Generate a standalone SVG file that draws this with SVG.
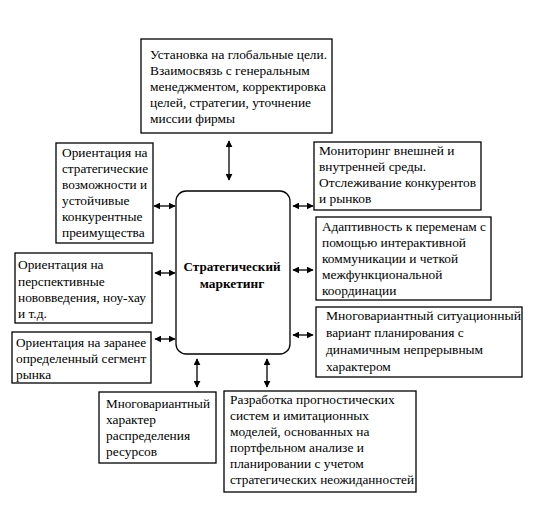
<svg xmlns="http://www.w3.org/2000/svg" width="533" height="517" viewBox="0 0 533 517">
<style>
.box{fill:#fff;stroke:#000;stroke-width:1.3}
text{font-family:'Liberation Serif', 'Times New Roman', 'DejaVu Serif', serif;font-size:13.4px;fill:#000}
.b{font-weight:bold;text-anchor:middle}
.con line{stroke:#000;stroke-width:1.3;marker-start:url(#ah);marker-end:url(#ah)}
</style>
<defs>
<marker id="ah" viewBox="0 0 10 10" refX="9" refY="5" markerWidth="7" markerHeight="7" markerUnits="userSpaceOnUse" orient="auto-start-reverse">
<path d="M0,0 L10,5 L0,10 z" fill="#000"/>
</marker>
</defs>
<rect width="533" height="517" fill="#fff"/>
<g id="center">
<rect class="box" x="176" y="191" width="114" height="163" rx="10"/>
<text class="b" x="232" y="271" textLength="97" lengthAdjust="spacingAndGlyphs">Стратегический</text>
<text class="b" x="232" y="288">маркетинг</text>
</g>
<g id="top">
<rect class="box" x="141" y="39" width="191" height="94"/>
<text x="150" y="59" textLength="177" lengthAdjust="spacingAndGlyphs">Установка на глобальные цели.</text>
<text x="150" y="75">Взаимосвязь с генеральным</text>
<text x="150" y="91" textLength="176" lengthAdjust="spacingAndGlyphs">менеджментом, корректировка</text>
<text x="150" y="107">целей, стратегии, уточнение</text>
<text x="150" y="123">миссии фирмы</text>
</g>
<g id="left1">
<rect class="box" x="56" y="143" width="97" height="100"/>
<text x="62" y="157">Ориентация на</text>
<text x="62" y="173" textLength="86" lengthAdjust="spacingAndGlyphs">стратегические</text>
<text x="62" y="189" textLength="85" lengthAdjust="spacingAndGlyphs">возможности и</text>
<text x="62" y="205">устойчивые</text>
<text x="62" y="221">конкурентные</text>
<text x="62" y="237">преимущества</text>
</g>
<g id="left2">
<rect class="box" x="15" y="253" width="137" height="70"/>
<text x="18" y="269">Ориентация на</text>
<text x="18" y="286">перспективные</text>
<text x="18" y="302" textLength="128" lengthAdjust="spacingAndGlyphs">нововведения, ноу-хау</text>
<text x="18" y="318">и т.д.</text>
</g>
<g id="left3">
<rect class="box" x="12" y="332" width="139" height="51"/>
<text x="16" y="347" textLength="130" lengthAdjust="spacingAndGlyphs">Ориентация на заранее</text>
<text x="16" y="363">определенный сегмент</text>
<text x="16" y="379">рынка</text>
</g>
<g id="right1">
<rect class="box" x="314" y="142" width="167" height="68"/>
<text x="319" y="155">Мониторинг внешней и</text>
<text x="319" y="171">внутренней среды.</text>
<text x="319" y="187" textLength="157" lengthAdjust="spacingAndGlyphs">Отслеживание конкурентов</text>
<text x="319" y="203">и рынков</text>
</g>
<g id="right2">
<rect class="box" x="316" y="217" width="175" height="83"/>
<text x="322" y="231" textLength="164" lengthAdjust="spacingAndGlyphs">Адаптивность к переменам с</text>
<text x="322" y="247">помощью интерактивной</text>
<text x="322" y="263">коммуникации и четкой</text>
<text x="322" y="279">межфункциональной</text>
<text x="322" y="295">координации</text>
</g>
<g id="right3">
<rect class="box" x="316" y="307" width="206" height="70"/>
<text x="326" y="320" textLength="195" lengthAdjust="spacingAndGlyphs">Многовариантный ситуационный</text>
<text x="326" y="337">вариант планирования с</text>
<text x="326" y="354">динамичным непрерывным</text>
<text x="326" y="371">характером</text>
</g>
<g id="bottom1">
<rect class="box" x="99" y="392" width="117" height="71"/>
<text x="106" y="408" textLength="104" lengthAdjust="spacingAndGlyphs">Многовариантный</text>
<text x="106" y="424">характер</text>
<text x="106" y="440">распределения</text>
<text x="106" y="456">ресурсов</text>
</g>
<g id="bottom2">
<rect class="box" x="224" y="391" width="192" height="101"/>
<text x="230" y="404">Разработка прогностических</text>
<text x="230" y="420">систем и имитационных</text>
<text x="230" y="436">моделей, основанных на</text>
<text x="230" y="452">портфельном анализе и</text>
<text x="230" y="468">планировании с учетом</text>
<text x="230" y="484" textLength="184" lengthAdjust="spacingAndGlyphs">стратегических неожиданностей</text>
</g>
<g id="connectors" class="con">
<line x1="229" y1="141" x2="229" y2="180"/>
<line x1="154" y1="206" x2="175" y2="206"/>
<line x1="155" y1="273" x2="175" y2="273"/>
<line x1="155" y1="339" x2="175" y2="339"/>
<line x1="293" y1="206" x2="313" y2="206"/>
<line x1="293" y1="270" x2="313" y2="270"/>
<line x1="293" y1="335" x2="313" y2="335"/>
<line x1="197" y1="359" x2="197" y2="387"/>
<line x1="267" y1="359" x2="267" y2="387"/>
</g>
</svg>
